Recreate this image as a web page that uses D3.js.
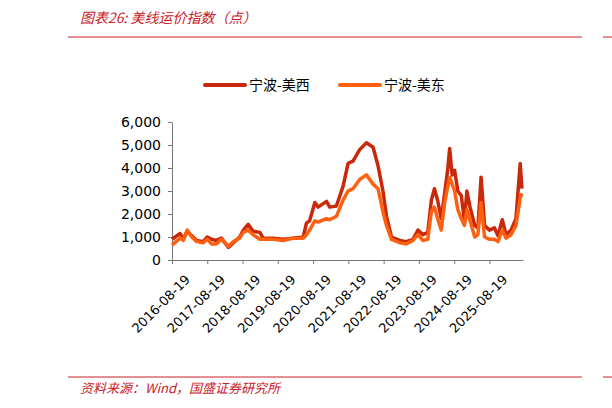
<!DOCTYPE html>
<html><head><meta charset="utf-8">
<script src="https://cdn.jsdelivr.net/npm/d3@7"></script>
<style>body{margin:0;background:#fff}</style>
</head><body>
<svg id="c" width="612" height="408"></svg>
<script>
const yearsOffset=[0,0.23,0.32,0.43,0.56,0.7,0.89,1.0,1.12,1.26,1.4,1.6,1.74,1.92,2.02,2.16,2.3,2.49,2.58,2.87,3.15,3.43,3.72,3.81,3.9,4.05,4.14,4.38,4.47,4.66,4.85,4.99,5.13,5.32,5.51,5.7,5.84,5.98,6.08,6.22,6.45,6.64,6.83,6.97,7.11,7.25,7.35,7.44,7.53,7.63,7.73,7.82,7.87,7.94,8.01,8.1,8.2,8.29,8.36,8.45,8.58,8.67,8.76,8.86,9.0,9.14,9.24,9.36,9.47,9.61,9.75,9.87,9.92];
const west=[900,1150,900,1250,1050,850,800,1000,900,850,950,550,750,1000,1300,1550,1250,1200,950,950,900,950,1000,1600,1700,2500,2300,2550,2300,2350,3200,4200,4300,4800,5100,4900,4100,3000,1900,1000,850,800,900,1300,1100,1200,2600,3100,2600,1800,2900,4000,4850,3700,3900,3000,2800,1700,3000,2300,1500,1400,3600,1500,1300,1400,1050,1750,1100,1300,1800,4200,3100];
const east=[650,950,850,1300,1000,800,750,900,700,700,900,600,800,950,1200,1300,1100,900,900,900,850,950,950,1100,1300,1700,1650,1800,1750,1900,2600,3000,3100,3500,3700,3300,3100,2100,1500,900,750,700,850,1100,850,900,2100,2300,1800,1300,2500,3200,3600,3300,3000,2200,1800,1500,2200,1700,1000,1100,2500,1000,900,900,800,1300,950,1100,1500,2700,2900];
const yTicks=[0,1000,2000,3000,4000,5000,6000];
const xTickLabels=["2016-08-19","2017-08-19","2018-08-19","2019-08-19","2020-08-19","2021-08-19","2022-08-19","2023-08-19","2024-08-19","2025-08-19"];
const seriesNames=["宁波-美西","宁波-美东"];
const colors=["#C8290B","#FF6010"];

const svg=d3.select("#c");
const start=new Date(2016,7,19);
const toDate=t=>d3.timeDay.offset(start,Math.round(t*365.25));
const x=d3.scaleTime().domain([start,toDate(9.95)]).range([172,523]);
const y=d3.scaleLinear().domain([0,6000]).range([260,122]);
const red="#C8202A";
svg.append("text").attr("x",80).attr("y",23).attr("fill",red).attr("font-size",14).attr("font-style","italic").attr("font-family","Noto Sans CJK SC").text("图表26:  美线运价指数（点）");
svg.append("line").attr("x1",68).attr("x2",582).attr("y1",37).attr("y2",37).attr("stroke",red).attr("stroke-width",1);
svg.append("line").attr("x1",603).attr("x2",612).attr("y1",37).attr("y2",37).attr("stroke",red).attr("stroke-width",1);
svg.append("line").attr("x1",68).attr("x2",582).attr("y1",377).attr("y2",377).attr("stroke",red).attr("stroke-width",1);
svg.append("line").attr("x1",603).attr("x2",612).attr("y1",377).attr("y2",377).attr("stroke",red).attr("stroke-width",1);
svg.append("text").attr("x",80).attr("y",393).attr("fill",red).attr("font-size",13).attr("font-style","italic").attr("font-family","Noto Sans CJK SC").text("资料来源：Wind，国盛证券研究所");

[[205,0],[340,1]].forEach(([lx,i])=>{
  svg.append("line").attr("x1",lx).attr("x2",lx+40).attr("y1",85).attr("y2",85).attr("stroke",colors[i]).attr("stroke-width",4).attr("stroke-linecap","round");
  svg.append("text").attr("x",lx+44).attr("y",90).attr("font-size",14).attr("font-family","Noto Sans CJK SC").attr("fill","#000").text(seriesNames[i]);
});

const ya=svg.append("g").attr("transform","translate(172,0)").call(d3.axisLeft(y).tickValues(yTicks).tickFormat(d3.format(",")).tickSize(4).tickSizeOuter(0));
ya.selectAll("text").attr("font-size",14).attr("font-family","DejaVu Sans").attr("fill","#000").attr("dx","-4");
ya.select(".domain").attr("stroke","#777");ya.selectAll("line").attr("stroke","#777");
const xd=xTickLabels.map(s=>new Date(s+"T00:00:00"));
const xa=svg.append("g").attr("transform","translate(0,260)").call(d3.axisBottom(x).tickValues(xd).tickFormat((d,i)=>xTickLabels[i]).tickSize(4).tickSizeOuter(0));
xa.select(".domain").attr("stroke","#777");xa.selectAll("line").attr("stroke","#777");
xa.selectAll("text").attr("font-size",13).attr("font-family","DejaVu Sans").attr("fill","#000")
  .attr("text-anchor","end").attr("transform","translate(7,9) rotate(-45)").attr("dy","0.7em").attr("dx","0");

const line=d3.line().x((d,i)=>x(toDate(yearsOffset[i]))).y(d=>y(d)).curve(d3.curveLinear);
[west,east].forEach((s,i)=>svg.append("path").datum(s).attr("d",line).attr("fill","none").attr("stroke",colors[i]).attr("stroke-width",3.5).attr("stroke-linejoin","round"));
</script></body></html>
